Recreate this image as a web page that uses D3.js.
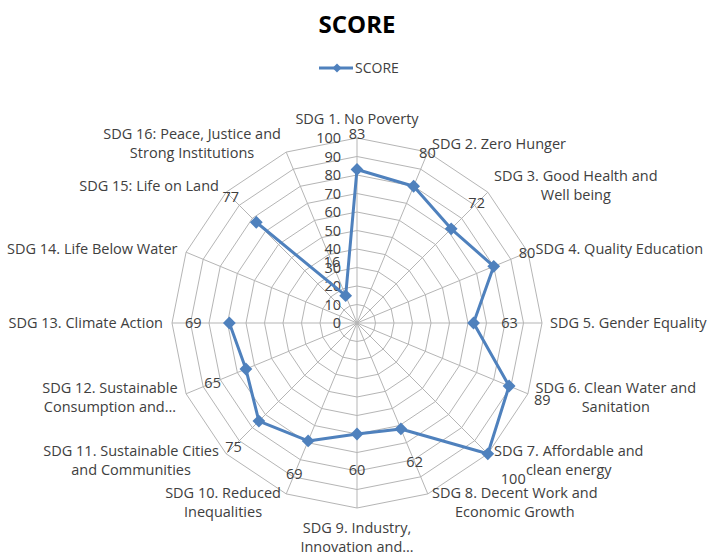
<html lang="en">
<head>
  <meta charset="UTF-8">
  <title>SCORE</title>
  <script src="https://d3js.org/d3.v7.min.js"></script>
  <style>
    body { margin: 0; background: #fff; }
    text { font-family: "Open Sans", sans-serif; fill: #404040; }
  </style>
</head>
<body>
<div id="radar_chart"></div>
<script>

// chart data
const categories = [
  ["SDG 1. No Poverty"],
  ["SDG 2. Zero Hunger"],
  ["SDG 3. Good Health and", "Well being"],
  ["SDG 4. Quality Education"],
  ["SDG 5. Gender Equality"],
  ["SDG 6. Clean Water and", "Sanitation"],
  ["SDG 7. Affordable and", "clean energy"],
  ["SDG 8. Decent Work and", "Economic Growth"],
  ["SDG 9. Industry,", "Innovation and…"],
  ["SDG 10. Reduced", "Inequalities"],
  ["SDG 11. Sustainable Cities", "and Communities"],
  ["SDG 12. Sustainable", "Consumption and…"],
  ["SDG 13. Climate Action"],
  ["SDG 14. Life Below Water"],
  ["SDG 15: Life on Land"],
  ["SDG 16: Peace, Justice and", "Strong Institutions"]
];
const scores = [83, 80, 72, 80, 63, 89, 100, 62, 60, 69, 75, 65, 69, null, 77, 16];
const tickValues = [0, 10, 20, 30, 40, 50, 60, 70, 80, 90, 100];
const seriesName = "SCORE";

const width = 707, height = 556;
const cx = 357, cy = 323, radius = 185;
const lineH = 19;
const blue = "#4f81bd", grid = "#b5b5b5";

const svg = d3.select("#radar_chart")
  .append("svg")
  .attr("width", width)
  .attr("height", height);

const r_scale = d3.scaleLinear().domain([0, 100]).range([0, radius]);
const a_scale = d3.scaleLinear().domain([0, categories.length]).range([0, 2 * Math.PI]);

function pos(i, r) {
  const a = a_scale(i);
  return [cx + r * Math.sin(a), cy - r * Math.cos(a)];
}

const g = svg.append("g");

// rings
tickValues.slice(1).forEach(function (t) {
  const pts = categories.map((c, i) => pos(i, r_scale(t)));
  g.append("polygon")
    .attr("points", pts.map(p => p.join(",")).join(" "))
    .attr("fill", "none")
    .attr("stroke", grid)
    .attr("stroke-width", 1);
});

// spokes
categories.forEach(function (c, i) {
  const p = pos(i, r_scale(100));
  g.append("line")
    .attr("x1", cx).attr("y1", cy)
    .attr("x2", p[0]).attr("y2", p[1])
    .attr("stroke", grid)
    .attr("stroke-width", 1);
});

// tick labels on the first axis
g.selectAll(".tick")
  .data(tickValues)
  .enter()
  .append("text")
  .attr("x", cx - 16)
  .attr("y", d => cy - r_scale(d))
  .attr("dy", "0.35em")
  .attr("text-anchor", "end")
  .style("font-size", "14.5px")
  .text(d => d);

// category labels
categories.forEach(function (lines, i) {
  const a = a_scale(i);
  const s = Math.sin(a), c = Math.cos(a);
  const p = pos(i, radius + 6);
  const h = lines.length * lineH;
  let x = p[0], cyBlock;
  let mode;
  if (Math.abs(s) < 0.2) {
    mode = "middle";
    cyBlock = p[1] - c * (h / 2 + 4);
  } else {
    mode = s > 0 ? "start" : "end";
    x = s > 0 ? p[0] + 2 : p[0] - 3;
    cyBlock = p[1] - c * 3;
  }
  const t = g.append("text").style("font-size", "14.5px").attr("text-anchor", "middle");
  const spans = lines.map((ln, k) =>
    t.append("tspan")
      .attr("y", cyBlock + (k - (lines.length - 1) / 2) * lineH)
      .attr("dy", "0.35em")
      .text(ln));
  const maxW = d3.max(spans, sp => sp.node().getComputedTextLength());
  const mid = mode === "middle" ? x : (mode === "start" ? x + maxW / 2 : x - maxW / 2);
  spans.forEach(sp => sp.attr("x", mid));
});

// series line, broken at missing values
let start = scores.findIndex(v => v == null);
const order = start < 0
  ? d3.range(scores.length).concat([0])
  : d3.range(start + 1, scores.length).concat(d3.range(0, start + 1));

const line = d3.line()
  .defined(i => scores[i] != null)
  .x(i => pos(i, r_scale(scores[i]))[0])
  .y(i => pos(i, r_scale(scores[i]))[1]);

g.append("path")
  .datum(order)
  .attr("d", line)
  .attr("fill", "none")
  .attr("stroke", blue)
  .attr("stroke-width", 3)
  .attr("stroke-linejoin", "round");

const valid = d3.range(scores.length).filter(i => scores[i] != null);
const diamond = d3.symbol().type(d3.symbolSquare).size(82);

g.selectAll(".marker")
  .data(valid)
  .enter()
  .append("path")
  .attr("d", diamond)
  .attr("fill", blue)
  .attr("transform", i => {
    const p = pos(i, r_scale(scores[i]));
    return `translate(${p[0]},${p[1]}) rotate(45)`;
  });

// data labels
g.selectAll(".dlabel")
  .data(valid)
  .enter()
  .append("text")
  .attr("x", i => pos(i, r_scale(scores[i]) + 36)[0])
  .attr("y", i => pos(i, r_scale(scores[i]) + 36)[1])
  .attr("dy", "0.35em")
  .attr("text-anchor", "middle")
  .style("font-size", "14.5px")
  .text(i => scores[i]);

// title
svg.append("text")
  .attr("x", 357)
  .attr("y", 25)
  .attr("dy", "0.35em")
  .attr("text-anchor", "middle")
  .style("font-size", "24px")
  .style("font-weight", "bold")
  .style("fill", "#000")
  .text(seriesName);

// legend
const lg = svg.append("g").attr("transform", "translate(319, 68)");
lg.append("line")
  .attr("x1", 0).attr("x2", 34)
  .attr("y1", 0).attr("y2", 0)
  .attr("stroke", blue)
  .attr("stroke-width", 3);
lg.append("path")
  .attr("d", d3.symbol().type(d3.symbolSquare).size(40))
  .attr("fill", blue)
  .attr("transform", "translate(18,0) rotate(45)");
lg.append("text")
  .attr("x", 36)
  .attr("y", 0)
  .attr("dy", "0.35em")
  .style("font-size", "14px")
  .text(seriesName);

</script>
</body>
</html>
